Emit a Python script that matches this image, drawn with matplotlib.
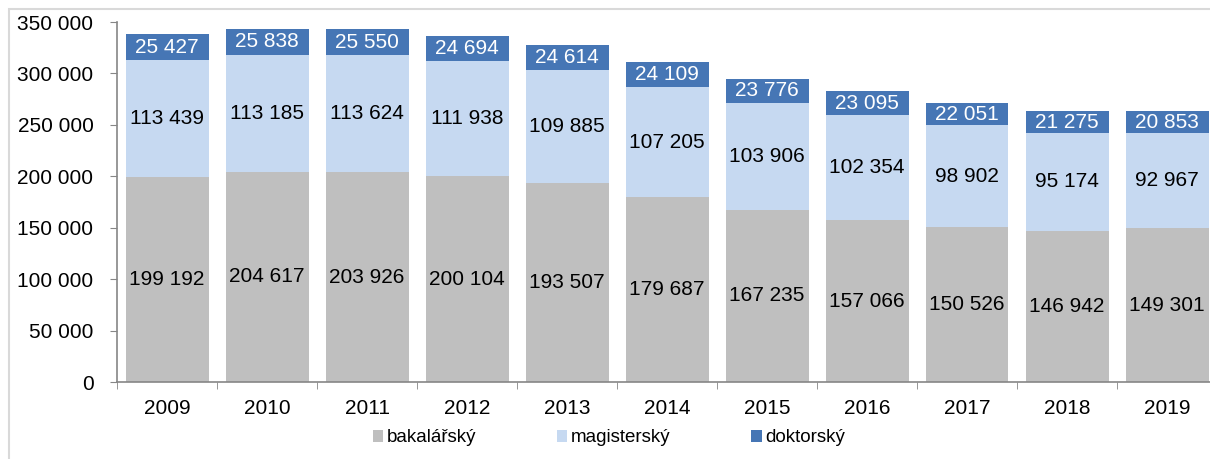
import matplotlib.pyplot as plt
import matplotlib.patches as patches
import numpy as np

years = ['2009', '2010', '2011', '2012', '2013', '2014', '2015', '2016', '2017', '2018', '2019']
bakalarsky = [199192, 204617, 203926, 200104, 193507, 179687, 167235, 157066, 150526, 146942, 149301]
magistersky = [113439, 113185, 113624, 111938, 109885, 107205, 103906, 102354, 98902, 95174, 92967]
doktorsky = [25427, 25838, 25550, 24694, 24614, 24109, 23776, 23095, 22051, 21275, 20853]

series = [
    ('bakalářský', bakalarsky, '#bfbfbf', 'black'),
    ('magisterský', magistersky, '#c6d9f1', 'black'),
    ('doktorský', doktorsky, '#4676b5', 'white'),
]

plt.rcParams['font.family'] = ['Liberation Sans', 'DejaVu Sans']


def fmt(v):
    return f'{v:,}'.replace(',', ' ')


fig = plt.figure(figsize=(12.1, 4.59), dpi=100)
W, H = 1210, 459

# light frame around the chart area
fig.patches.append(patches.Rectangle((9 / W, -0.05), 1.1, (H - 9) / H + 0.05,
                                     transform=fig.transFigure, fill=False,
                                     edgecolor='#d9d9d9', linewidth=1.5))

ax = fig.add_axes([117 / W, 77 / H, 1100 / W, 360 / H])
x = np.arange(len(years))
bottom = np.zeros(len(years))
handles = []
for name, vals, color, tcolor in series:
    vals = np.array(vals)
    bars = ax.bar(x, vals, width=0.83, bottom=bottom, color=color, label=name)
    for xi, b, v in zip(x, bottom, vals):
        ax.text(xi, b + v / 2, fmt(v), ha='center', va='center',
                color=tcolor, fontsize=15)
    handles.append(bars)
    bottom += vals

ax.set_xlim(-0.5, len(years) - 0.5)
ax.set_ylim(0, 350000)
ax.set_yticks(np.arange(0, 350001, 50000))
ax.set_yticklabels([fmt(v) for v in range(0, 350001, 50000)], fontsize=15)
ax.set_xticks(x)
ax.set_xticklabels(years, fontsize=15)
ax.set_xticks(np.arange(-0.5, len(years), 1), minor=True)
ax.tick_params(axis='x', which='major', length=0, pad=12)
ax.tick_params(axis='x', which='minor', length=5, color='#868686')
ax.tick_params(axis='y', length=5, color='#868686', pad=12)
for s in ['top', 'right']:
    ax.spines[s].set_visible(False)
for s in ['left', 'bottom']:
    ax.spines[s].set_color('#868686')
    ax.spines[s].set_linewidth(1.2)

leg = fig.legend(handles=handles, loc='center', bbox_to_anchor=(609 / W, 1 - 438 / H),
                 ncol=3, frameon=False, fontsize=13.5, handlelength=0.55,
                 handleheight=0.55, handletextpad=0.2, columnspacing=4.3)

fig.savefig('out.png', dpi=100)
